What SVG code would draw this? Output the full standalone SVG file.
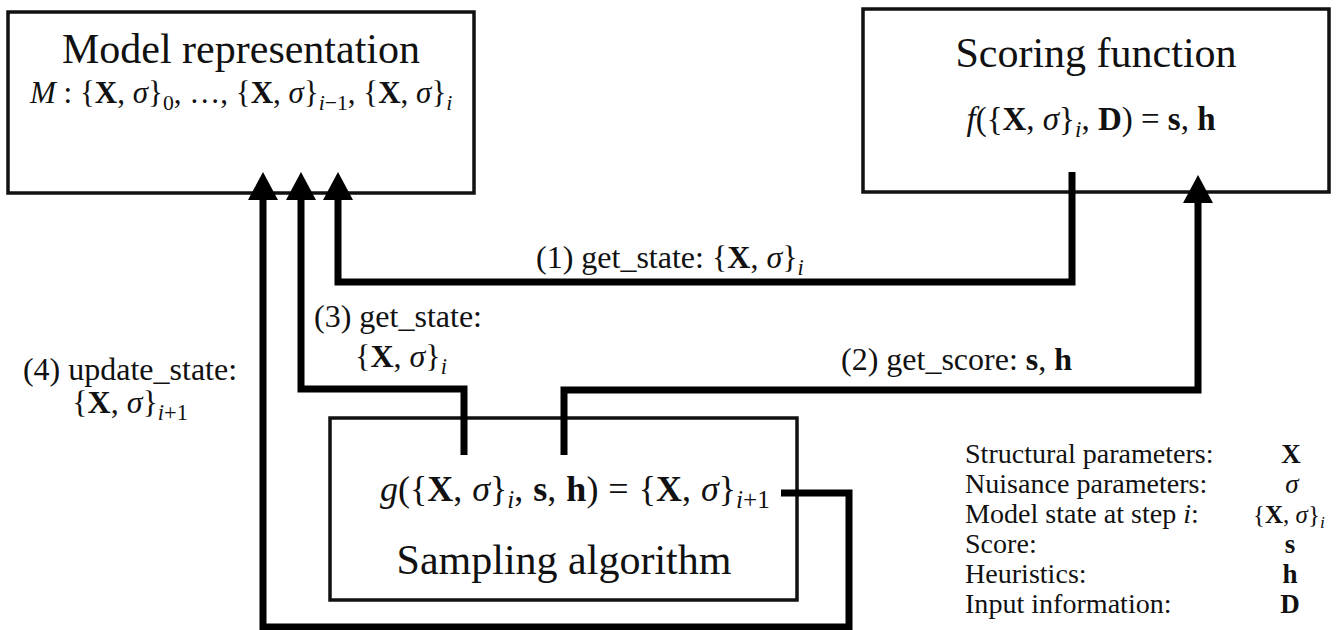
<svg xmlns="http://www.w3.org/2000/svg" width="1337" height="630" viewBox="0 0 1337 630">
<style>
text{font-family:"Liberation Serif","Times New Roman",serif;fill:#111}
.title{font-size:42px;text-anchor:middle}
.lbl{font-size:32px}
.leg{font-size:27px}
.sym{font-size:27px;text-anchor:middle}
.it{font-style:italic}
.bf{font-weight:bold}
.sub{font-size:0.7em}
.box{fill:none;stroke:#111;stroke-width:3.5}
.conn{fill:none;stroke:#000;stroke-width:7;stroke-linejoin:miter}
</style>
<defs>
<marker id="arr" markerUnits="userSpaceOnUse" markerWidth="28" markerHeight="30" refX="0" refY="15" orient="auto" viewBox="0 0 28 30">
<path d="M0,0 L28,15 L0,30 Z" fill="#000"/>
</marker>
</defs>
<rect width="1337" height="630" fill="#fff"/>
<g id="model-representation">
<rect class="box" x="8" y="12" width="466" height="181"/>
<text class="title" x="241" y="63">Model representation</text>
<text x="30" y="103" font-size="31"><tspan class="it">M</tspan> : {<tspan class="bf">X</tspan>, <tspan class="it">σ</tspan>}<tspan class="sub" dy="7">0</tspan><tspan dy="-7">, …, {</tspan><tspan class="bf">X</tspan>, <tspan class="it">σ</tspan>}<tspan class="sub" dy="7"><tspan class="it">i</tspan>−1</tspan><tspan dy="-7">, {</tspan><tspan class="bf">X</tspan>, <tspan class="it">σ</tspan>}<tspan class="sub it" dy="7">i</tspan></text>
</g>
<g id="scoring-function">
<rect class="box" x="863" y="9" width="466" height="183"/>
<text class="title" x="1096" y="67">Scoring function</text>
<text x="1091" y="130" font-size="33" text-anchor="middle"><tspan class="it">f</tspan>({<tspan class="bf">X</tspan>, <tspan class="it">σ</tspan>}<tspan class="sub it" dy="7">i</tspan><tspan dy="-7">, </tspan><tspan class="bf">D</tspan>) = <tspan class="bf">s</tspan>, <tspan class="bf">h</tspan></text>
</g>
<g id="sampling-algorithm">
<rect class="box" x="330" y="418" width="467" height="182"/>
<text x="380" y="501" font-size="36" word-spacing="1"><tspan class="it">g</tspan>({<tspan class="bf">X</tspan>, <tspan class="it">σ</tspan>}<tspan class="sub it" dy="7">i</tspan><tspan dy="-7">, </tspan><tspan class="bf">s</tspan>, <tspan class="bf">h</tspan>) = {<tspan class="bf">X</tspan>, <tspan class="it">σ</tspan>}<tspan class="sub" dy="7"><tspan class="it">i</tspan>+1</tspan></text>
<text class="title" x="564" y="574">Sampling algorithm</text>
</g>
<g id="connectors">
<g id="conn-1-get-state">
<path class="conn" d="M1072,172 V282 H338 V200" marker-end="url(#arr)"/>
<text class="lbl" x="536" y="268">(1) get_state: {<tspan class="bf">X</tspan>, <tspan class="it">σ</tspan>}<tspan class="sub it" dy="7">i</tspan></text>
</g>
<g id="conn-2-get-score">
<path class="conn" d="M564,455 V390 H1198 V203" marker-end="url(#arr)"/>
<text class="lbl" x="841" y="370">(2) get_score: <tspan class="bf">s</tspan>, <tspan class="bf">h</tspan></text>
</g>
<g id="conn-3-get-state">
<path class="conn" d="M464,455 V389 H301 V200" marker-end="url(#arr)"/>
<text class="lbl" x="398" y="327" text-anchor="middle">(3) get_state:</text>
<text class="lbl" x="401" y="367" text-anchor="middle">{<tspan class="bf">X</tspan>, <tspan class="it">σ</tspan>}<tspan class="sub it" dy="7">i</tspan></text>
</g>
<g id="conn-4-update-state">
<path class="conn" d="M781,493 H849 V627 H263 V200" marker-end="url(#arr)"/>
<text class="lbl" x="130" y="380" text-anchor="middle">(4) update_state:</text>
<text class="lbl" x="130" y="413" text-anchor="middle">{<tspan class="bf">X</tspan>, <tspan class="it">σ</tspan>}<tspan class="sub" dy="7"><tspan class="it">i</tspan>+1</tspan></text>
</g>
</g>
<g id="legend">
<g transform="translate(965 0) scale(1.04 1)">
<text class="leg" x="0" y="463">Structural parameters:</text>
<text class="leg" x="0" y="493">Nuisance parameters:</text>
<text class="leg" x="0" y="523">Model state at step <tspan class="it">i</tspan>:</text>
<text class="leg" x="0" y="553">Score:</text>
<text class="leg" x="0" y="583">Heuristics:</text>
<text class="leg" x="0" y="613">Input information:</text>
</g>
<text class="sym bf" x="1291" y="463">X</text>
<text class="sym it" x="1292" y="493">σ</text>
<text x="1253" y="523" font-size="25">{<tspan class="bf">X</tspan>,<tspan class="it"> σ</tspan>}<tspan class="sub it" dy="5">i</tspan></text>
<text class="sym bf" x="1290" y="553">s</text>
<text class="sym bf" x="1290" y="583">h</text>
<text class="sym bf" x="1290" y="613">D</text>
</g>
</svg>
